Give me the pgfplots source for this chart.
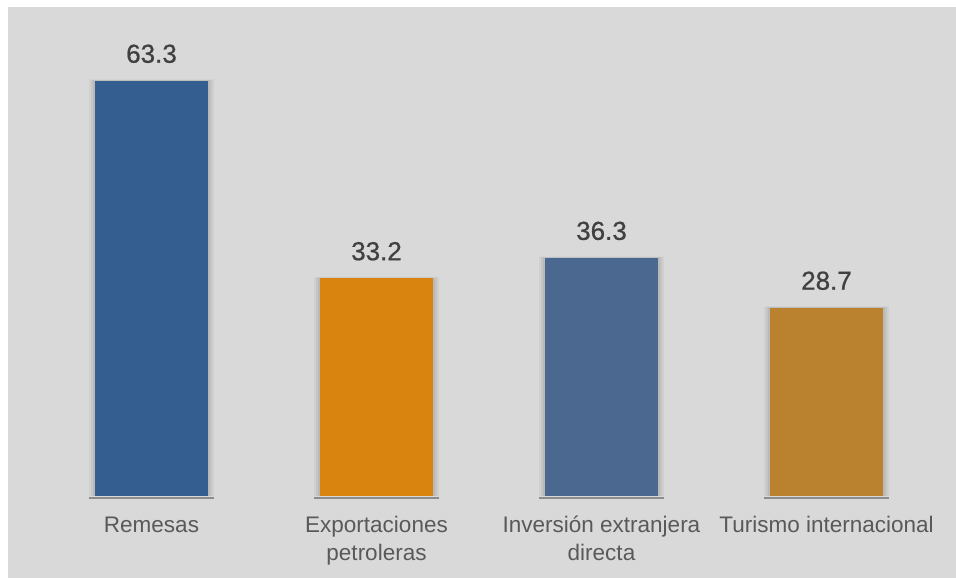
\documentclass[border=0pt]{standalone}
\usepackage{pgfplots}
\pgfplotsset{compat=1.18}
\usepackage{fontspec}
\setmainfont{Liberation Sans}
\newfontfamily\valfont[FakeBold=0.8]{Liberation Sans}
\definecolor{bgGray}{HTML}{D9D9D9}
\definecolor{cRem}{HTML}{335E8F}
\definecolor{cExp}{HTML}{D9840F}
\definecolor{cInv}{HTML}{4A6890}
\definecolor{cTur}{HTML}{BA822E}
\definecolor{valText}{HTML}{404040}
\definecolor{labText}{HTML}{595959}
\definecolor{baseLine}{HTML}{8C8C8C}

\begin{document}
\begin{tikzpicture}
\fill[white] (0,0) rectangle (956bp,578bp);
\begin{axis}[
    at={(8bp,0)}, anchor=south west,
    scale only axis,
    width=948bp, height=571bp,
    xmin=-0.6378, xmax=3.5756,
    ymin=-12.5, ymax=74.54,
    hide axis,
    clip=false,
    ybar, bar shift=0pt,
    bar width=113bp,
    /pgf/number format/.cd, fixed, fixed zerofill, precision=1, assume math mode=true,
    /pgfplots/.cd,
    nodes near coords style={font=\valfont\fontsize{26bp}{30bp}\selectfont, text=valText, anchor=base, yshift=18bp, inner sep=0pt},
    every axis plot/.append style={draw=none},
]
\fill[bgGray] (rel axis cs:0,0) rectangle (rel axis cs:1,1);
% soft shadows
\addplot[fill=black, fill opacity=0.04, bar width=125bp] coordinates {(0,63.5) (1,33.4) (2,36.5) (3,28.9)};
\addplot[fill=black, fill opacity=0.05, bar width=121bp] coordinates {(0,63.4) (1,33.3) (2,36.4) (3,28.8)};
\addplot[fill=black, fill opacity=0.06, bar width=117bp] coordinates {(0,63.35) (1,33.25) (2,36.35) (3,28.75)};
% base line under each bar
\addplot[only marks, mark=-, mark size=62.5bp, mark options={draw=baseLine, line width=2bp}] coordinates {(0,-0.38) (1,-0.38) (2,-0.38) (3,-0.38)};
% bars
\addplot[fill=cRem, nodes near coords] coordinates {(0,63.3)};
\addplot[fill=cExp, nodes near coords] coordinates {(1,33.2)};
\addplot[fill=cInv, nodes near coords] coordinates {(2,36.3)};
\addplot[fill=cTur, nodes near coords] coordinates {(3,28.7)};
% category labels
\begin{scope}[every node/.style={anchor=base, inner sep=0pt, text=labText, font=\fontsize{22.5bp}{27bp}\selectfont}]
\node at (axis cs:0,-5.64) {Remesas};
\node at (axis cs:1,-5.64) {Exportaciones};
\node at (axis cs:1,-9.76) {petroleras};
\node at (axis cs:2,-5.64) {Inversión extranjera};
\node at (axis cs:2,-9.76) {directa};
\node at (axis cs:3,-5.64) {Turismo internacional};
\end{scope}
\end{axis}
\end{tikzpicture}
\end{document}
